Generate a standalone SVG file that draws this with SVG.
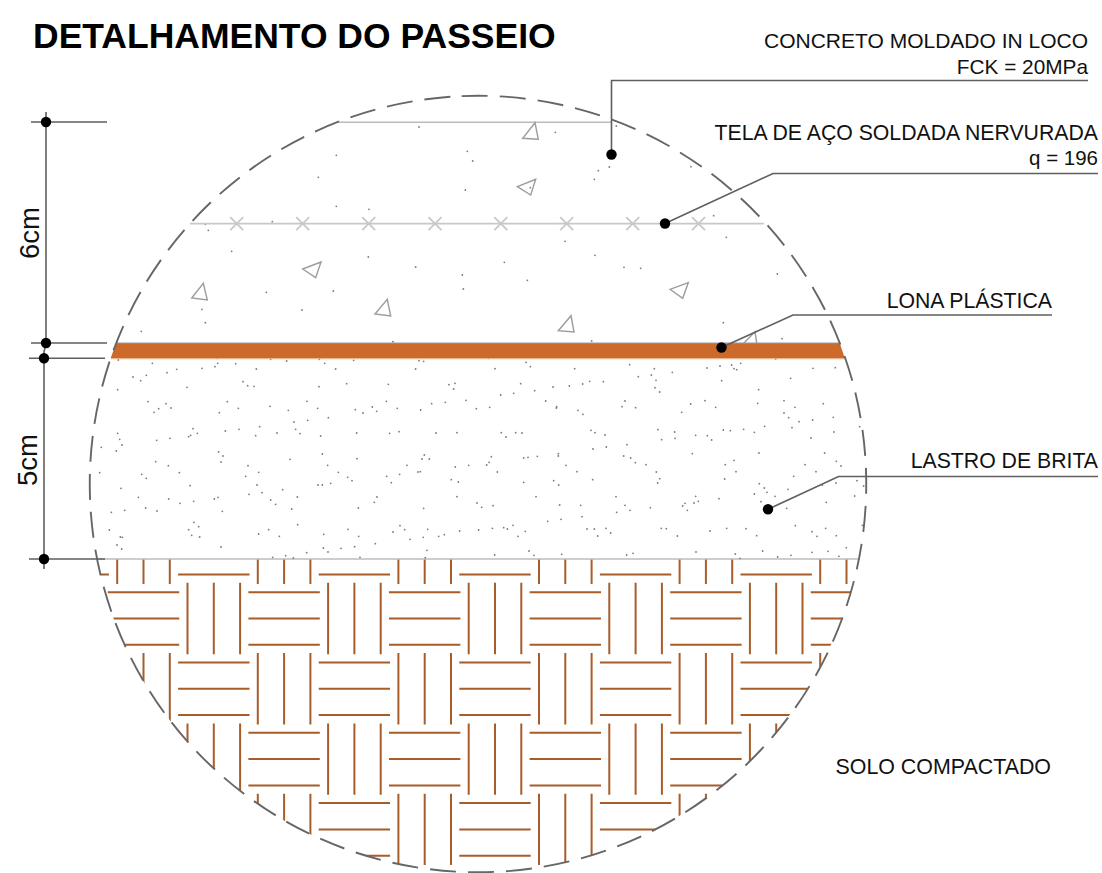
<svg xmlns="http://www.w3.org/2000/svg" width="1102" height="873" viewBox="0 0 1102 873">
<style>
text{font-family:"Liberation Sans",Arial,sans-serif;fill:#111}
.lb{font-size:21.250px;text-anchor:end}
.dim{font-size:27.500px}
.ldr{fill:none;stroke:#5f5f5f;stroke-width:1.6}
.d{fill:#000}
.tri{fill:none;stroke:#9c9c9c;stroke-width:1.4}
.g{fill:none;stroke:#7e7e7e;stroke-width:5.400;stroke-linecap:round}
.w{stroke:#a85c28;stroke-width:2;fill:none}
.x{stroke:#c8c8c8;stroke-width:1.800;fill:none}
</style>
<defs>
<clipPath id="soil"><path d="M96.8 559H858.6A388.2 388.2 0 0 1 96.8 559Z"/></clipPath>
<clipPath id="above"><rect x="0" y="0" width="1102" height="343"/></clipPath>
<path id="h" class="w" d="M-35.7 -26.3H35.7M-35.7 0H35.7M-35.7 26.3H35.7"/>
<path id="v" class="w" d="M-26.3 -35.7V35.7M0 -35.7V35.7M26.3 -35.7V35.7"/>
<path id="cross" class="x" d="M-6.5 -6.5L6.5 6.5M-6.5 6.5L6.5 -6.5"/>
<g id="tile"><use href="#h"/><use href="#v" x="70.3"/><use href="#v" y="70.3"/><use href="#h" x="70.3" y="70.3"/></g>
<g id="row"><use href="#tile" x="-140.6"/><use href="#tile"/><use href="#tile" x="140.6"/><use href="#tile" x="281.2"/><use href="#tile" x="421.8"/><use href="#tile" x="562.4"/><use href="#tile" x="703"/></g>
</defs>
<rect width="1102" height="873" fill="#fff"/>

<g id="solo" clip-path="url(#soil)">
<use href="#row" x="143.5" y="477.9"/><use href="#row" x="143.5" y="618.5"/><use href="#row" x="143.5" y="759.1"/>
</g>

<g id="brita">
<path d="M97 559H858" fill="none" stroke="#bdbdbd" stroke-width="1.600"/>
<g transform="translate(80,350) scale(.3333)"><path class="g" d="M115 30h.1M217 40h.1M290 58h.1M261 68h.1M366 55h.1M412 25h.1M413 40h.1M405 50h.1M467 41h.1M529 57h.1M572 28h.1M620 33h.1M718 28h.1M734 40h.1M767 57h.1M821 31h.1M1017 32h.1M1031 34h.1M1007 57h.1M159 81h.1M182 92h.1M199 76h.1M321 112h.1M489 95h.1M503 107h.1M522 109h.1M717 110h.1M800 101h.1M925 103h.1M1107 104h.1M1125 100h.1M1121 117h.1M113 119h.1M204 155h.1M258 161h.1M236 176h.1M222 187h.1M273 174h.1M442 155h.1M418 188h.1M475 175h.1M570 169h.1M625 181h.1M681 154h.1M713 175h.1M642 216h.1M683 211h.1M745 203h.1M826 179h.1M849 189h.1M877 171h.1M890 184h.1M919 154h.1M952 175h.1M1022 180h.1M1055 161h.1M1096 157h.1M1158 151h.1M1189 176h.1M113 250h.1M119 268h.1M126 285h.1M109 303h.1M64 292h.1M230 271h.1M270 265h.1M326 260h.1M332 256h.1M339 236h.1M352 250h.1M436 243h.1M477 238h.1M527 257h.1M539 230h.1M591 249h.1M647 238h.1M660 251h.1M722 258h.1M830 249h.1M929 250h.1M957 245h.1M1068 249h.1M1131 248h.1M416 306h.1M429 318h.1M423 336h.1M227 335h.1M265 347h.1M630 328h.1M504 347h.1M727 312h.1M743 346h.1M831 326h.1M1033 315h.1M1026 327h.1M1048 327h.1M981 346h.1M1126 351h.1M1166 346h.1M59 368h.1M185 373h.1M199 385h.1M298 368h.1M536 367h.1M497 379h.1M775 367h.1M803 382h.1M816 392h.1M920 379h.1M959 373h.1M1014 366h.1M1021 365h.1M934 398h.1M1114 389h.1M1135 396h.1M123 415h.1M330 407h.1M531 405h.1M608 419h.1M714 405h.1M727 405h.1M752 400h.1M175 442h.1M266 447h.1M403 447h.1M414 442h.1M507 433h.1M546 428h.1M572 450h.1M652 441h.1M891 441h.1M883 457h.1M1131 440h.1M1191 459h.1M197 474h.1M134 481h.1M94 487h.1M231 483h.1M300 460h.1M341 454h.1M427 484h.1M587 463h.1M635 477h.1M835 474h.1M1031 475h.1M342 517h.1M356 530h.1M326 539h.1M335 556h.1M359 561h.1M88 540h.1M121 561h.1M127 562h.1M111 585h.1M125 597h.1M536 552h.1M566 539h.1M598 559h.1M653 524h.1M731 553h.1M804 538h.1M836 559h.1M939 546h.1M960 527h.1M974 539h.1M990 568h.1M1030 562h.1M1043 538h.1M1076 559h.1M1093 554h.1M1139 543h.1M1196 540h.1M423 591h.1M730 594h.1M744 606h.1M783 595h.1M824 590h.1M886 581h.1M680 608h.1M617 617h.1M578 622h.1M640 624h.1M840 622h.1M1041 601h.1M1036 623h.1"/></g>
<g transform="translate(480,350) scale(.3333)"><path class="g" d="M25 25h.1M45 56h.1M138 37h.1M151 50h.1M284 56h.1M449 44h.1M523 56h.1M475 80h.1M514 75h.1M528 91h.1M577 67h.1M681 54h.1M720 48h.1M755 45h.1M762 56h.1M770 59h.1M782 40h.1M725 92h.1M887 27h.1M999 55h.1M1066 53h.1M932 85h.1M122 101h.1M62 135h.1M101 130h.1M164 122h.1M219 111h.1M268 108h.1M308 102h.1M329 94h.1M370 95h.1M525 113h.1M539 126h.1M836 119h.1M197 153h.1M230 170h.1M229 174h.1M29 172h.1M294 181h.1M309 193h.1M426 170h.1M435 153h.1M467 173h.1M605 187h.1M632 162h.1M675 152h.1M707 172h.1M833 160h.1M912 152h.1M945 172h.1M912 189h.1M926 203h.1M1030 161h.1M1060 202h.1M998 210h.1M957 215h.1M854 229h.1M936 233h.1M64 248h.1M78 261h.1M107 248h.1M126 249h.1M333 241h.1M345 248h.1M375 255h.1M534 239h.1M545 269h.1M584 246h.1M585 265h.1M647 256h.1M682 257h.1M695 270h.1M730 240h.1M751 242h.1M791 238h.1M823 247h.1M1062 246h.1M993 264h.1M1139 230h.1M441 284h.1M379 291h.1M339 297h.1M637 311h.1M837 309h.1M1034 309h.1M34 320h.1M27 337h.1M20 345h.1M131 324h.1M144 322h.1M172 319h.1M235 311h.1M235 318h.1M431 318h.1M452 324h.1M466 338h.1M498 344h.1M258 346h.1M736 344h.1M762 331h.1M975 344h.1M1069 334h.1M1083 348h.1M52 366h.1M291 365h.1M529 366h.1M768 365h.1M1008 365h.1M941 379h.1M131 397h.1M221 392h.1M236 405h.1M338 389h.1M539 386h.1M533 399h.1M734 387h.1M838 401h.1M853 414h.1M1068 399h.1M1131 392h.1M1027 405h.1M1151 408h.1M861 427h.1M924 418h.1M168 440h.1M408 440h.1M647 439h.1M717 446h.1M823 432h.1M885 439h.1M1124 438h.1M642 459h.1M655 454h.1M615 460h.1M608 468h.1M843 455h.1M1039 457h.1M5 472h.1M39 467h.1M239 465h.1M302 466h.1M435 466h.1M450 481h.1M410 487h.1M511 473h.1M622 481h.1M920 475h.1M306 500h.1M243 508h.1M203 514h.1M37 535h.1M71 533h.1M82 537h.1M99 526h.1M136 544h.1M114 559h.1M321 537h.1M343 537h.1M353 558h.1M378 535h.1M392 549h.1M544 535h.1M559 536h.1M592 558h.1M690 543h.1M740 535h.1M798 536h.1M830 557h.1M946 527h.1M996 545h.1M1011 559h.1M1037 535h.1M1069 557h.1M1147 526h.1M44 615h.1M147 603h.1M162 616h.1M245 613h.1M440 615h.1M459 610h.1M648 606h.1M766 612h.1M780 625h.1M848 603h.1M893 621h.1M933 616h.1M996 607h.1M1044 604h.1M1077 619h.1M1099 593h.1"/></g>
</g>

<g id="lona">
<path d="M116 343H839.6L845 358.6H110.6Z" fill="#cb6a2b"/>
<path d="M116 343H839.6" fill="none" stroke="#9a9a9a" stroke-width="1.2"/>
<path d="M111 358.8H845" fill="none" stroke="#f0b48e" stroke-width="1"/>
</g>

<g id="concreto">
<path d="M339 122.3H612" fill="none" stroke="#bbb" stroke-width="1.600"/>
<g clip-path="url(#above)">
<path class="tri" d="M535 122.7L522.7 138.3L538.3 139.3ZM517.3 186.7L535.7 179.3L530.7 195ZM302.7 269L321 262L315.7 277.7ZM191.7 298L203.3 283.3L207.3 300ZM375 314L387.3 299.3L390.7 316ZM670 289.3L688.3 282.7L682.7 298.3ZM558.3 330.7L571 315.7L574 332ZM742 345L755 331.7L757 345Z"/>
</g>
<g transform="translate(0,80) scale(.3333)"><path class="g" d="M1009 226h.1M955 292h.1M1009 379h.1M1107 388h.1M616 433h.1M625 451h.1M817 425h.1M695 514h.1M1105 531h.1M799 637h.1M1000 633h.1M606 688h.1M906 690h.1M616 728h.1M424 754h.1M1179 785h.1"/></g>
<g transform="translate(400,80) scale(.3333)"><path class="g" d="M57 141h.1M466 157h.1M202 214h.1M218 243h.1M196 330h.1M595 272h.1M583 298h.1M628 261h.1M649 138h.1M873 260h.1M391 323h.1M941 407h.1M979 472h.1M495 484h.1M585 526h.1M313 547h.1M47 561h.1M672 562h.1M722 565h.1M187 585h.1M382 601h.1M190 627h.1M1132 582h.1M970 728h.1M1146 776h.1M575 783h.1"/></g>
</g>

<g id="tela">
<path class="x" d="M190 223.6H764"/>
<use href="#cross" x="236.7" y="223.6"/><use href="#cross" x="302.7" y="223.6"/><use href="#cross" x="368.7" y="223.6"/><use href="#cross" x="435" y="223.6"/><use href="#cross" x="500.8" y="223.6"/><use href="#cross" x="566.7" y="223.6"/><use href="#cross" x="632.7" y="223.6"/><use href="#cross" x="698.5" y="223.6"/>
</g>

<g id="contorno">
<path d="M461.7 96.1A388.2 388.2 0 0 1 494.3 871.9A388.2 388.2 0 0 1 461.7 96.1Z" fill="none" stroke="#666" stroke-width="1.900" stroke-dasharray="26 12.11"/>
</g>

<g id="connectors">
<path class="ldr" d="M1088 80.5H611.5V154.5"/><circle class="d" cx="611.5" cy="154.5" r="5.200"/>
<path class="ldr" d="M1098 173.5H773L665 223.5"/><circle class="d" cx="665" cy="223.5" r="5.200"/>
<path class="ldr" d="M1052 315H793L721.500 347.500"/><circle class="d" cx="721.500" cy="347.500" r="5.200"/>
<path class="ldr" d="M1098 476.500H838.500L768 509.300"/><circle class="d" cx="768" cy="509.300" r="5.200"/>
</g>

<g id="cotas">
<path class="ldr" d="M46 112V343L44 352V569M31 122H107M31 343H107M29 358.300H105M29 559H105"/>
<circle class="d" cx="46" cy="122" r="5.200"/><circle class="d" cx="46" cy="343" r="5.200"/><circle class="d" cx="44" cy="358.300" r="5.200"/><circle class="d" cx="44" cy="559" r="5.200"/>
<text class="dim" transform="translate(39,259) rotate(-90)">6cm</text>
<text class="dim" transform="translate(37,486) rotate(-90)">5cm</text>
</g>

<g id="textos">
<text x="33" y="48" font-size="35.500" font-weight="bold" style="fill:#000">DETALHAMENTO DO PASSEIO</text>
<text class="lb" x="1088" y="48" style="font-size:21px">CONCRETO MOLDADO IN LOCO</text>
<text class="lb" x="1088" y="74" style="font-size:20.800px">FCK = 20MPa</text>
<text class="lb" x="1098" y="140">TELA DE AÇO SOLDADA NERVURADA</text>
<text class="lb" x="1098" y="165" style="font-size:20.500px">q = 196</text>
<text class="lb" x="1052" y="308">LONA PLÁSTICA</text>
<text class="lb" x="1098" y="468">LASTRO DE BRITA</text>
<text class="lb" x="1051" y="774" style="font-size:21.400px">SOLO COMPACTADO</text>
</g>
</svg>
